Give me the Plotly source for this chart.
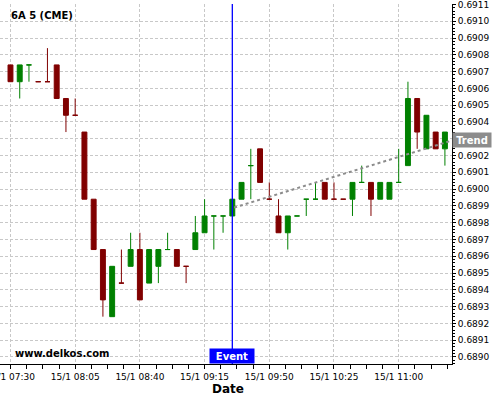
import plotly.graph_objects as go

day = "2025-01-15 "
times = ["07:30", "07:35", "07:40", "07:45", "07:50", "07:55", "08:00", "08:05",
         "08:10", "08:15", "08:20", "08:25", "08:30", "08:35", "08:40", "08:45",
         "08:50", "08:55", "09:00", "09:05", "09:10", "09:15", "09:20", "09:25",
         "09:30", "09:35", "09:40", "09:45", "09:50", "09:55", "10:00", "10:05",
         "10:10", "10:15", "10:20", "10:25", "10:30", "10:35", "10:40", "10:45",
         "10:50", "10:55", "11:00", "11:05", "11:10", "11:15", "11:20", "11:25"]
opens = [0.69074, 0.69064, 0.69074, 0.69064, 0.69064, 0.69074, 0.69054, 0.69044,
         0.69034, 0.68994, 0.68964, 0.68924, 0.68944, 0.68954, 0.68964, 0.68944,
         0.68954, 0.68964, 0.68964, 0.68954, 0.68964, 0.68974, 0.68984, 0.68984,
         0.68984, 0.68994, 0.69014, 0.69024, 0.68994, 0.68984, 0.68974, 0.68984,
         0.68994, 0.68994, 0.69004, 0.68994, 0.68994, 0.68994, 0.69004, 0.69004,
         0.68994, 0.68994, 0.69004, 0.69014, 0.69054, 0.69024, 0.69034, 0.69024]
highs = [0.69074, 0.69074, 0.69074, 0.69064, 0.69084, 0.69074, 0.69054, 0.69054,
         0.69034, 0.68994, 0.68964, 0.68954, 0.68964, 0.68974, 0.68974, 0.68964,
         0.68964, 0.68974, 0.68964, 0.68954, 0.68984, 0.68994, 0.68984, 0.68984,
         0.68994, 0.69004, 0.69024, 0.69024, 0.69004, 0.68994, 0.68984, 0.68984,
         0.68994, 0.69004, 0.69004, 0.69004, 0.68994, 0.69004, 0.69014, 0.69004,
         0.69004, 0.69004, 0.69024, 0.69064, 0.69054, 0.69044, 0.69034, 0.69034]
lows = [0.69064, 0.69054, 0.69064, 0.69064, 0.69064, 0.69054, 0.69034, 0.69044,
        0.68994, 0.68964, 0.68924, 0.68924, 0.68944, 0.68954, 0.68934, 0.68944,
        0.68944, 0.68964, 0.68954, 0.68944, 0.68964, 0.68974, 0.68964, 0.68974,
        0.68984, 0.68994, 0.68994, 0.69004, 0.68994, 0.68974, 0.68964, 0.68984,
        0.68984, 0.68994, 0.68994, 0.68994, 0.68994, 0.68984, 0.69004, 0.68984,
        0.68994, 0.68994, 0.69004, 0.69014, 0.69024, 0.69024, 0.69024, 0.69014]
closes = [0.69064, 0.69074, 0.69074, 0.69064, 0.69064, 0.69054, 0.69044, 0.69044,
          0.68994, 0.68964, 0.68934, 0.68954, 0.68944, 0.68964, 0.68934, 0.68964,
          0.68964, 0.68964, 0.68954, 0.68954, 0.68974, 0.68984, 0.68984, 0.68984,
          0.68994, 0.69004, 0.69014, 0.69004, 0.68994, 0.68974, 0.68984, 0.68984,
          0.68994, 0.68994, 0.68994, 0.68994, 0.68994, 0.69004, 0.69004, 0.68994,
          0.69004, 0.69004, 0.69004, 0.69054, 0.69034, 0.69044, 0.69024, 0.69034]
direction = ["d", "u", "u", "d", "d", "d", "d", "d",
             "d", "d", "d", "u", "d", "u", "d", "u",
             "u", "u", "d", "d", "u", "u", "u", "u",
             "u", "u", "u", "d", "d", "d", "u", "u",
             "u", "u", "d", "d", "d", "u", "u", "d",
             "u", "u", "u", "u", "d", "u", "d", "u"]

trend_times = ["09:31", "11:29"]
trend_values = [0.68989, 0.69029]
event_time = "09:30"
trend_label_value = 0.69029

UP = "#008000"
DOWN = "#800000"
FONT = "DejaVu Sans"

fig = go.Figure()
for key, col in (("u", UP), ("d", DOWN)):
    idx = [i for i, d in enumerate(direction) if d == key]
    fig.add_trace(go.Candlestick(
        x=[day + times[i] for i in idx],
        open=[opens[i] for i in idx], high=[highs[i] for i in idx],
        low=[lows[i] for i in idx], close=[closes[i] for i in idx],
        increasing=dict(line=dict(color=col, width=1), fillcolor=col),
        decreasing=dict(line=dict(color=col, width=1), fillcolor=col),
        whiskerwidth=0, showlegend=False, hoverinfo="skip",
    ))

fig.add_trace(go.Scatter(
    x=[day + t for t in trend_times], y=trend_values, mode="lines",
    line=dict(color="#8c8c8c", width=2, dash="dot"),
    showlegend=False, hoverinfo="skip",
))

fig.add_shape(type="line", xref="x", yref="paper",
              x0=day + event_time, x1=day + event_time, y0=0, y1=1,
              line=dict(color="#0000ff", width=1.3), layer="above")

fig.add_annotation(text="Event", xref="x", yref="paper", x=day + event_time, y=0,
                   xanchor="center", yanchor="bottom", showarrow=False,
                   bgcolor="#0000ff", font=dict(family=FONT, size=10, color="white", weight="bold"),
                   width=42, height=12, borderpad=1)
fig.add_annotation(text="Trend", xref="paper", yref="y", x=1, y=trend_label_value,
                   xanchor="left", yanchor="middle", showarrow=False,
                   bgcolor="#8c8c8c", font=dict(family=FONT, size=10, color="white", weight="bold"),
                   width=36, height=12, borderpad=1)
fig.add_annotation(text="6A 5 (CME)", xref="paper", yref="paper", x=9 / 452, y=0.968,
                   xanchor="left", yanchor="middle", showarrow=False,
                   font=dict(family=FONT, size=10, color="black", weight="bold"))
fig.add_annotation(text="www.delkos.com", xref="paper", yref="paper", x=13 / 452, y=0.028,
                   xanchor="left", yanchor="middle", showarrow=False,
                   font=dict(family=FONT, size=10, color="black", weight="bold"))
fig.add_annotation(text="Date", xref="paper", yref="paper", x=0.504, y=-0.0694,
                   xanchor="center", yanchor="middle", showarrow=False,
                   font=dict(family=FONT, size=12, color="black", weight="bold"))

fig.update_layout(
    width=500, height=400,
    margin=dict(l=0, r=48, t=4, b=36),
    paper_bgcolor="white", plot_bgcolor="white",
    font=dict(family=FONT, size=9, color="black"),
    boxgap=0.24,
    xaxis=dict(
        type="date", range=[day + "07:24:20", day + "11:28:50"],
        rangeslider=dict(visible=False),
        tick0=day + "07:30", dtick=2100000, tickformat="%-d/%-m %H:%M",
        ticks="outside", ticklen=4, tickcolor="black",
        showline=True, linecolor="black", linewidth=1,
        showgrid=True, gridcolor="#c8c8c8", griddash="3px,2px", gridwidth=1,
        zeroline=False, ticklabeloverflow="allow", automargin=False,
        minor=dict(dtick=525000, tick0=day + "07:30", ticks="outside", ticklen=4,
                   tickcolor="black", showgrid=False),
    ),
    yaxis=dict(
        side="right", range=[0.688958, 0.691103],
        dtick=0.0001, tick0=0.689, tickformat=".4f",
        ticks="outside", ticklen=3, tickcolor="black",
        showline=True, linecolor="black", linewidth=1,
        showgrid=True, gridcolor="#c8c8c8", griddash="3px,2px", gridwidth=1,
        zeroline=False, automargin=False, ticklabeloverflow="allow",
        minor=dict(dtick=0.00002, ticks="outside", ticklen=2, tickcolor="black", showgrid=False),
    ),
)

fig.write_html("out.html", config={"displayModeBar": False},
               post_script="document.body.style.margin='0';document.body.style.padding='0';")
